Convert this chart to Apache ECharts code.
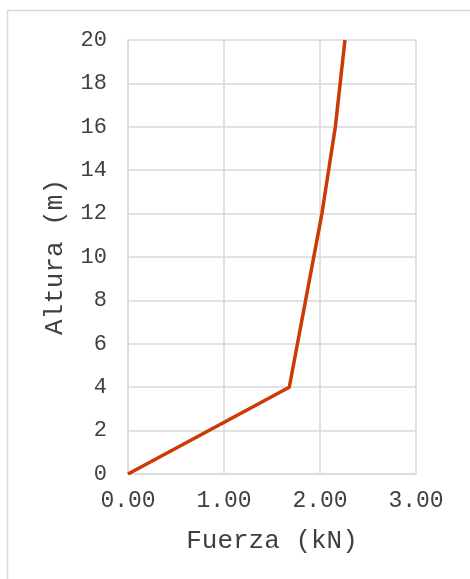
<!DOCTYPE html>
<html><head><meta charset="utf-8">
<script src="https://cdn.jsdelivr.net/npm/echarts@6/dist/echarts.min.js"></script>
<style>html,body{margin:0;padding:0;background:#fff}#c{width:470px;height:579px}</style>
</head><body><div id="c"></div>
<script>
const fuerza = [0, 1.68, 1.85, 2.02, 2.16, 2.26];
const altura = [0, 4, 8, 12, 16, 20];
const xTitle = 'Fuerza (kN)';
const yTitle = 'Altura (m)';
const font = '"Liberation Mono", "Courier New", monospace';
const chart = echarts.init(document.getElementById('c'), null, {renderer: 'canvas'});
chart.setOption({
  animation: false,
  graphic: [{type: 'rect', shape: {x: 7.5, y: 10.5, width: 480, height: 600}, style: {fill: 'none', stroke: '#d9d9d9', lineWidth: 1.5}, z: -1}],
  grid: {left: 128, right: 54, top: 40, bottom: 105},
  xAxis: {
    type: 'value', min: 0, max: 3, interval: 1,
    name: xTitle, nameLocation: 'middle', nameGap: 54,
    nameTextStyle: {fontFamily: font, fontSize: 26, color: '#404040'},
    axisLine: {show: true, lineStyle: {color: '#d9d9d9', width: 1.5}},
    axisTick: {show: false},
    axisLabel: {fontFamily: font, fontSize: 23, color: '#404040', margin: 15, formatter: v => v.toFixed(2)},
    splitLine: {show: true, lineStyle: {color: '#d9d9d9', width: 1.5}}
  },
  yAxis: {
    type: 'value', min: 0, max: 20, interval: 2,
    name: yTitle, nameLocation: 'middle', nameGap: 60, nameRotate: 90,
    nameTextStyle: {fontFamily: font, fontSize: 26, color: '#404040'},
    axisLine: {show: true, lineStyle: {color: '#d9d9d9', width: 1.5}},
    axisTick: {show: false},
    axisLabel: {fontFamily: font, fontSize: 22, color: '#404040', margin: 21},
    splitLine: {show: true, lineStyle: {color: '#d9d9d9', width: 1.5}}
  },
  series: [{
    type: 'line', data: fuerza.map((f, i) => [f, altura[i]]),
    showSymbol: false, symbol: 'none',
    lineStyle: {color: '#CC3A06', width: 3.5}
  }]
});
</script></body></html>
